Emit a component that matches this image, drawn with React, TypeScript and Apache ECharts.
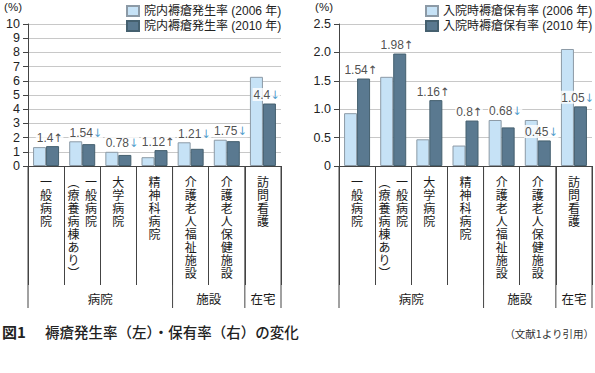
import React, { useEffect, useRef } from "react";
import * as echarts from "echarts";

const categories = [
  "一般病院",
  "一般病院（療養病棟あり）",
  "大学病院",
  "精神科病院",
  "介護老人福祉施設",
  "介護老人保健施設",
  "訪問看護",
];
const groupNames = ["病院", "施設", "在宅"];
const groupSizes = [4, 2, 1];

const incidenceName2006 = "院内褥瘡発生率 (2006 年)";
const incidenceName2010 = "院内褥瘡発生率 (2010 年)";
const prevalenceName2006 = "入院時褥瘡保有率 (2006 年)";
const prevalenceName2010 = "入院時褥瘡保有率 (2010 年)";

const incidence2006 = [1.33, 1.74, 1.0, 0.62, 1.67, 1.85, 6.28];
const incidence2010 = [1.4, 1.54, 0.78, 1.12, 1.21, 1.75, 4.4];
const prevalence2006 = [0.93, 1.57, 0.47, 0.36, 0.81, 0.81, 2.06];
const prevalence2010 = [1.54, 1.98, 1.16, 0.8, 0.68, 0.45, 1.05];

const leftTicksMax = 10;
const leftTicksStep = 1;
const rightTicksMax = 2.5;
const rightTicksStep = 0.5;

const CJK = "'Noto Sans CJK JP', sans-serif";
const LAT = "'Liberation Sans', 'Noto Sans CJK JP', sans-serif";
const ARROW = "'DejaVu Sans', sans-serif";
const GRID_H = 142;
const BAR_W = 13;

function verticalLabel(name: string): string {
  const i = name.indexOf("（");
  if (i < 0) return name.split("").join("\n");
  const main = name.slice(0, i).split("");
  const sub = ("︵" + name.slice(i + 1, -1) + "︶").split("");
  const n = Math.max(main.length, sub.length);
  const rows: string[] = [];
  for (let r = 0; r < n; r++) {
    rows.push((sub[r] || "　") + "  " + (main[r] || "　"));
  }
  return rows.join("\n");
}

function anchors(a: number[], b: number[], max: number): number[] {
  return b.map((v, i) => ((a[i] - v) / max) * GRID_H < 12 ? Math.max(a[i], v) : v);
}

function labelSeries(ai: number, a: number[], b: number[], max: number) {
  return {
    type: "scatter",
    xAxisIndex: ai,
    yAxisIndex: ai,
    data: anchors(a, b, max),
    symbolSize: 1,
    itemStyle: { color: "rgba(0,0,0,0)" },
    z: 5,
    silent: true,
    label: {
      show: true,
      position: "top",
      distance: 2,
      offset: [BAR_W / 2 - 3, 0],
      backgroundColor: "#fff",
      padding: [1, 0, 0, 1],
      formatter: (p: any) => {
        const i = p.dataIndex;
        const up = b[i] > a[i];
        return `{v|${b[i]}}{${up ? "up" : "dn"}|${up ? "↑" : "↓"}}`;
      },
      rich: {
        v: { fontSize: 12, color: "#222", fontFamily: LAT },
        up: { fontSize: 11.5, color: "#222", fontFamily: ARROW, width: 10, align: "center" },
        dn: { fontSize: 11.5, color: "#1f86c0", fontFamily: ARROW, width: 10, align: "center" },
      },
    },
  };
}

const lightStyle = { color: "#c6e2f6", borderColor: "#8c9aa6", borderWidth: 1 };
const darkStyle = { color: "#5a7990", borderColor: "#45606f", borderWidth: 1 };

function barSeries(name: string, ai: number, data: number[], style: any) {
  return {
    name,
    type: "bar",
    xAxisIndex: ai,
    yAxisIndex: ai,
    data,
    barWidth: BAR_W,
    barGap: "0%",
    itemStyle: style,
  };
}

function xAxis(ai: number) {
  return {
    type: "category",
    gridIndex: ai,
    data: categories,
    axisLine: { lineStyle: { color: "#444", width: 1 } },
    axisTick: { show: true, interval: 0, length: 119, lineStyle: { color: "#444" } },
    axisLabel: {
      interval: 0,
      formatter: verticalLabel,
      fontSize: 12,
      lineHeight: 13,
      color: "#1a1a1a",
      verticalAlign: "top",
      margin: 9,
      fontFamily: CJK,
    },
  };
}

function yAxis(ai: number, max: number, step: number, fmt: (v: number) => string) {
  return {
    type: "value",
    gridIndex: ai,
    min: 0,
    max,
    interval: step,
    name: "(%)",
    nameLocation: "end",
    nameGap: 11,
    nameTextStyle: {
      align: "right",
      verticalAlign: "bottom",
      padding: [0, 6, 0, 0],
      fontSize: 11.5,
      color: "#222",
      fontFamily: LAT,
    },
    axisLine: { show: true, lineStyle: { color: "#444", width: 1 } },
    axisTick: { show: true, length: 5, lineStyle: { color: "#444" } },
    splitLine: { show: true, lineStyle: { color: "#c8c8c8", width: 1 } },
    axisLabel: { fontSize: 12.5, color: "#222", margin: 8, fontFamily: LAT, formatter: fmt },
  };
}

function legend(names: string[], left: number) {
  return {
    data: names,
    left,
    top: 5,
    orient: "vertical",
    icon: "rect",
    itemWidth: 12,
    itemHeight: 10,
    itemGap: 3,
    padding: 0,
    backgroundColor: "#fff",
    selectedMode: false,
    textStyle: { fontSize: 12, color: "#222", lineHeight: 12, fontFamily: LAT },
  };
}

export default function App() {
  const ref = useRef<HTMLDivElement>(null);
  useEffect(() => {
    if (!ref.current) return;
    const chart = echarts.init(ref.current, null, { renderer: "svg" });
    const option: any = {
      animation: false,
      grid: [
        { left: 28, top: 24, width: 253, height: GRID_H },
        { left: 339, top: 24, width: 253, height: GRID_H },
      ],
      xAxis: [xAxis(0), xAxis(1)],
      yAxis: [
        yAxis(0, leftTicksMax, leftTicksStep, (v: number) => String(v)),
        yAxis(1, rightTicksMax, rightTicksStep, (v: number) => (v === 0 ? "0" : v.toFixed(1))),
      ],
      legend: [
        legend([incidenceName2006, incidenceName2010], 126),
        legend([prevalenceName2006, prevalenceName2010], 425),
      ],
      series: [
        barSeries(incidenceName2006, 0, incidence2006, lightStyle),
        barSeries(incidenceName2010, 0, incidence2010, darkStyle),
        barSeries(prevalenceName2006, 1, prevalence2006, lightStyle),
        barSeries(prevalenceName2010, 1, prevalence2010, darkStyle),
        labelSeries(0, incidence2006, incidence2010, leftTicksMax),
        labelSeries(1, prevalence2006, prevalence2010, rightTicksMax),
      ],
    };
    chart.setOption(option);

    const graphics: any[] = [];
    [0, 1].forEach((ai) => {
      const c0 = chart.convertToPixel({ xAxisIndex: ai } as any, categories[0]) as number;
      const c1 = chart.convertToPixel({ xAxisIndex: ai } as any, categories[1]) as number;
      const w = c1 - c0;
      const y0 = chart.convertToPixel({ yAxisIndex: ai } as any, 0) as number;
      const edge = (k: number) => c0 - w / 2 + k * w;
      let start = 0;
      const bounds = [0];
      groupNames.forEach((g, gi) => {
        const end = start + groupSizes[gi];
        bounds.push(end);
        graphics.push({
          type: "text",
          x: (edge(start) + edge(end)) / 2,
          y: y0 + 132,
          style: {
            text: g,
            fontSize: 12.5,
            fill: "#1a1a1a",
            fontFamily: CJK,
            align: "center",
            verticalAlign: "middle",
          },
        });
        start = end;
      });
      bounds.forEach((k) => {
        graphics.push({
          type: "line",
          shape: { x1: edge(k), y1: y0, x2: edge(k), y2: y0 + 142 },
          style: { stroke: "#444", lineWidth: 1 },
        });
      });
    });
    graphics.push({
      type: "text",
      x: 2,
      y: 331,
      style: {
        text: "図1",
        fontSize: 15,
        fontWeight: "bold",
        fill: "#222",
        fontFamily: CJK,
        verticalAlign: "middle",
      },
    });
    graphics.push({
      type: "text",
      x: 45,
      y: 331,
      style: {
        text: "褥瘡発生率（左）・保有率（右）の変化",
        fontSize: 14.5,
        fontWeight: 500,
        fill: "#222",
        fontFamily: CJK,
        verticalAlign: "middle",
      },
    });
    graphics.push({
      type: "text",
      x: 594,
      y: 333,
      style: {
        text: "（文献1より引用）",
        fontSize: 10.5,
        fill: "#333",
        fontFamily: CJK,
        align: "right",
        verticalAlign: "middle",
      },
    });
    chart.setOption({ graphic: graphics });
    return () => chart.dispose();
  }, []);
  return (
    <div
      ref={ref}
      style={{ position: "absolute", left: 0, top: 0, width: 595, height: 373, background: "#fff" }}
    />
  );
}
